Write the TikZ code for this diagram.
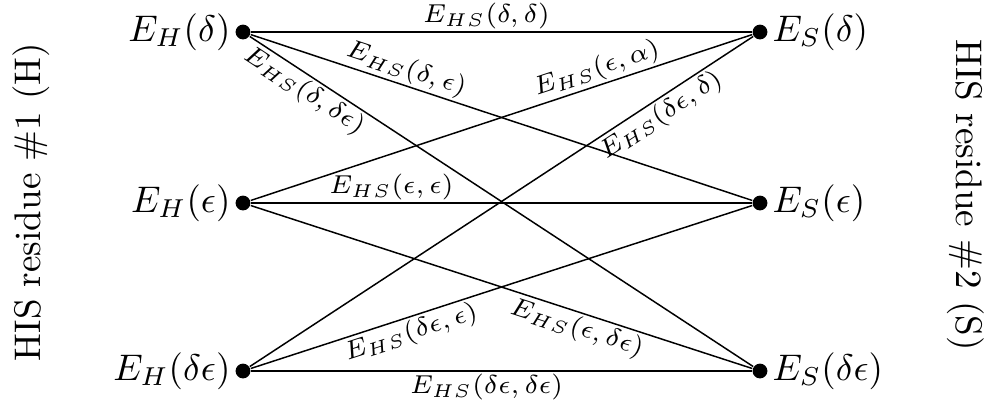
\documentclass[tikz,border=0pt]{standalone}
\usetikzlibrary{positioning}
\tikzset{
  dot/.style={circle,fill,inner sep=0pt,minimum size=4pt},
  elabel/.style={sloped,font=\scriptsize,inner sep=0.6pt},
  residue/.style={font=\normalsize},
}
\begin{document}
\begin{tikzpicture}[x=0.27pt,y=-0.27pt]
  \useasboundingbox (0,0) rectangle (990,411);
  % residue H
  \node[dot,label={[inner sep=1pt]left:$E_H(\delta)$}] (hd) at (243,32) {};
  \node[dot,label={[inner sep=1pt]left:$E_H(\epsilon)$}] (he) at (243,203) {};
  \node[dot,label={[inner sep=1pt]left:$E_H(\delta\epsilon)$}] (hde) at (243,371) {};
  % residue S
  \node[dot,label={[inner sep=1pt]right:$E_S(\delta)$}] (sd) at (760,32) {};
  \node[dot,label={[inner sep=1pt]right:$E_S(\epsilon)$}] (se) at (760,203) {};
  \node[dot,label={[inner sep=1pt]right:$E_S(\delta\epsilon)$}] (sde) at (760,371) {};
  \node[residue,rotate=90] (resh) at (31,202) {HIS residue \#1 (H)};
  \node[residue,rotate=-90] (ress) at (966,195) {HIS residue \#2 (S)};
  % couplings
  \draw (hd) -- node[elabel,above,pos=0.47] {$E_{HS}(\delta,\delta)$} (sd);
  \draw (hd) -- node[elabel,above,pos=0.3] {$E_{HS}(\delta,\epsilon)$} (se);
  \draw (hd) -- node[elabel,below,pos=0.125] {$E_{HS}(\delta,\delta\epsilon)$} (sde);
  \draw (he) -- node[elabel,above,pos=0.7] {$E_{HS}(\epsilon,\alpha)$} (sd);
  \draw (he) -- node[elabel,above,pos=0.28] {$E_{HS}(\epsilon,\epsilon)$} (se);
  \draw (he) -- node[elabel,below,pos=0.66] {$E_{HS}(\epsilon,\delta\epsilon)$} (sde);
  \draw (hde) -- node[elabel,below,pos=0.8] {$E_{HS}(\delta\epsilon,\delta)$} (sd);
  \draw (hde) -- node[elabel,below,pos=0.31] {$E_{HS}(\delta\epsilon,\epsilon)$} (se);
  \draw (hde) -- node[elabel,below,pos=0.47] {$E_{HS}(\delta\epsilon,\delta\epsilon)$} (sde);
\end{tikzpicture}
\end{document}
